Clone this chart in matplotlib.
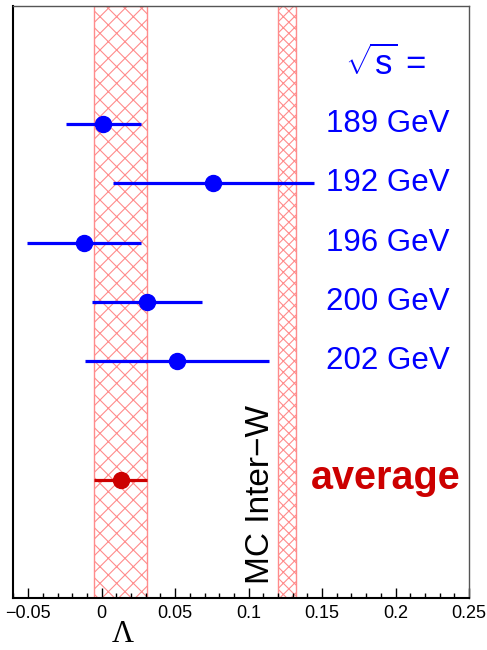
import matplotlib
matplotlib.use("Agg")
import matplotlib.pyplot as plt
from matplotlib.ticker import MultipleLocator

plt.rcParams['font.family'] = ['Liberation Sans', 'DejaVu Sans']
plt.rcParams['mathtext.fontset'] = 'custom'
plt.rcParams['mathtext.rm'] = 'Liberation Sans'
plt.rcParams['mathtext.it'] = 'Liberation Sans'
plt.rcParams['hatch.linewidth'] = 0.8

# Data
energies = ["189 GeV", "192 GeV", "196 GeV", "200 GeV", "202 GeV"]
lam = [0.001, 0.076, -0.012, 0.031, 0.051]
err_lo = [0.0255, 0.068, 0.039, 0.0375, 0.0625]
err_hi = [0.026, 0.0685, 0.039, 0.0375, 0.063]
avg_val = 0.013
avg_err = 0.018
mc_lo, mc_hi = 0.120, 0.132

rows = [1, 2, 3, 4, 5]
avg_row = 7

blue = '#0000ff'
red = '#cc0000'
hatch_c = '#ff8c8c'

fig = plt.figure(figsize=(4.87, 6.50), dpi=100)
ax = fig.add_axes([0.0277, 0.080, 0.9353, 0.9115])

ax.set_xlim(-0.06, 0.25)
ax.set_ylim(9, -1)

# bands
ax.axvspan(avg_val - avg_err, avg_val + avg_err, facecolor='none',
           edgecolor=hatch_c, hatch='xx', linewidth=1.0, zorder=1)
ax.axvspan(mc_lo, mc_hi, facecolor='none', edgecolor=hatch_c,
           hatch='xxx', linewidth=1.0, zorder=1)

ax.errorbar(lam, rows, xerr=[err_lo, err_hi], fmt='o', color=blue,
            markersize=11.5, elinewidth=2.3, capsize=0, zorder=3)
ax.errorbar([avg_val], [avg_row], xerr=[[avg_err], [avg_err]], fmt='o',
            color=red, markersize=11.5, elinewidth=2.3, capsize=0, zorder=3)

# labels
lx = 0.1947
ax.text(0.1935, -0.02, r'$\sqrt{\mathrm{s}}$ =', color=blue, fontsize=25,
        ha='center', va='center')
for r, e in zip(rows, energies):
    ax.text(lx, r, e, color=blue, fontsize=22.5, ha='center', va='center')
ax.text(0.1935, avg_row - 0.02, 'average', color=red, fontsize=28.5,
        fontweight='bold', ha='center', va='center')
ax.text(0.1078, 8.76, 'MC Inter\u2212W', color='black', fontsize=24,
        rotation=90, ha='center', va='bottom')

# axes style
ax.xaxis.set_major_locator(MultipleLocator(0.05))
ax.xaxis.set_minor_locator(MultipleLocator(0.01))
ax.set_xticks([-0.05, 0, 0.05, 0.1, 0.15, 0.2, 0.25])
ax.set_xticklabels(['\u22120.05', '0', '0.05', '0.1', '0.15', '0.2', '0.25'])
ax.tick_params(axis='x', which='major', direction='in', length=7, width=1,
               labelsize=13, pad=5, top=False)
ax.tick_params(axis='x', which='minor', direction='in', length=3.5, width=1,
               top=False)
ax.tick_params(axis='y', left=False, labelleft=False)
for s in ['left', 'bottom']:
    ax.spines[s].set_linewidth(1.5)
for s in ['top', 'right']:
    ax.spines[s].set_linewidth(1.0)
    ax.spines[s].set_color('#555555')

fig.text(123 / 487, 1 - 642 / 650, '\u039b', family='Liberation Serif',
         fontsize=22, ha='center', va='baseline')

fig.savefig('out.png', dpi=100)
